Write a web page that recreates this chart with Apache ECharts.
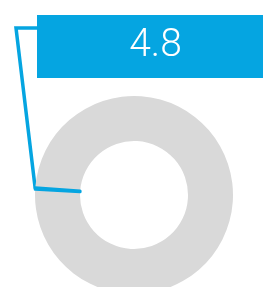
<!DOCTYPE html>
<html>
<head>
<meta charset="utf-8">
<script src="https://cdn.jsdelivr.net/npm/echarts@6/dist/echarts.min.js"></script>
<style>
html, body { margin: 0; padding: 0; background: #fff; }
#main { width: 263px; height: 287px; }
</style>
</head>
<body>
<div id="main"></div>
<script>
// slice names and values (the highlighted slice is drawn last, on top)
var names = ['rest', 'score'];
var values = [2000, 4.8];
var colors = ['#d9d9d9', '#05a5e1'];
var HL = 1;

var myChart = echarts.init(document.getElementById('main'));

var option = {
    animation: false,
    series: [{
        type: 'pie',
        silent: true,
        center: [134, 195],
        radius: [54, 99],
        startAngle: 175.8,
        avoidLabelOverlap: false,
        data: names.map(function (n, i) {
            return {
                name: n,
                value: values[i],
                itemStyle: {
                    color: colors[i],
                    borderColor: colors[i],
                    borderWidth: i === HL ? 3 : 0
                },
                label: { show: i === HL },
                labelLine: { show: i === HL }
            };
        }),
        label: {
            formatter: '{v|{c}}',
            backgroundColor: colors[HL],
            padding: 0,
            rich: {
                v: {
                    color: '#fff',
                    fontFamily: 'Roboto',
                    fontWeight: 300,
                    fontSize: 39,
                    width: 237,
                    height: 63,
                    lineHeight: 63,
                    align: 'center'
                }
            }
        },
        labelLine: {
            lineStyle: { color: colors[HL], width: 3.5 }
        },
        labelLayout: function (params) {
            var p0 = params.labelLinePoints ? params.labelLinePoints[0] : [36, 185];
            return {
                x: 37,
                y: 15,
                align: 'left',
                verticalAlign: 'top',
                labelLinePoints: [p0, [16, 28], [37, 28]]
            };
        }
    }]
};

myChart.setOption(option);
</script>
</body>
</html>
